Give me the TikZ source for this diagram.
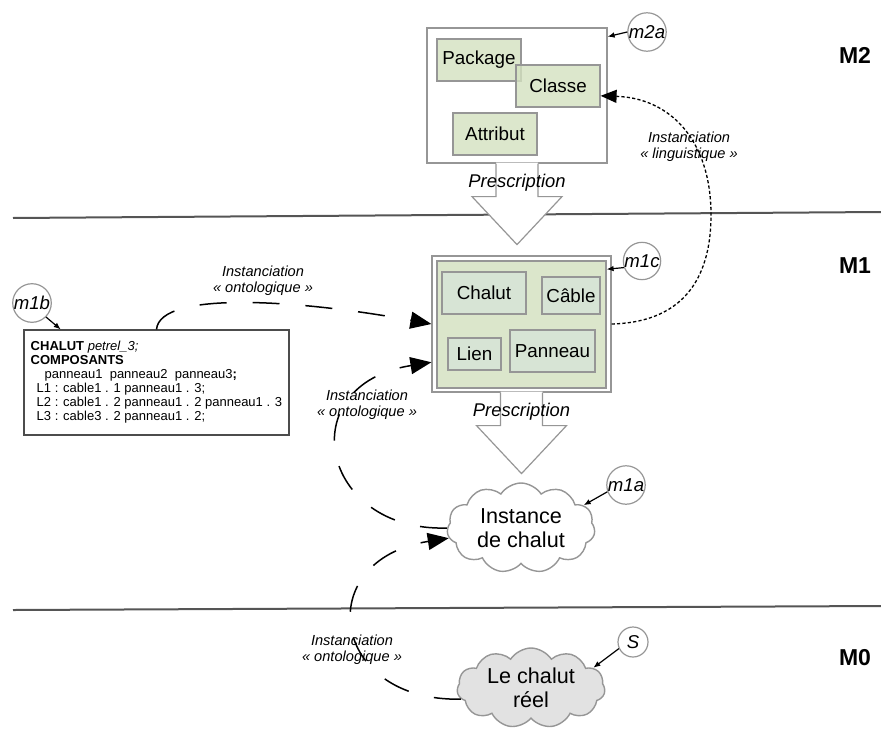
\documentclass[tikz,border=0pt]{standalone}
\usepackage{fontspec}
\setmainfont{Liberation Sans}
\usetikzlibrary{arrows.meta,shapes.symbols}

\definecolor{boxgray}{RGB}{150,150,150}
\definecolor{pkgfill}{RGB}{212,226,192}
\definecolor{m1fill}{RGB}{219,230,203}
\definecolor{elfill}{RGB}{215,228,213}
\definecolor{realfill}{RGB}{226,226,226}
\definecolor{rulegray}{RGB}{85,85,85}

\tikzset{
  frame/.style={draw=boxgray, line width=0.6pt, fill=white, inner sep=0pt},
  mbox/.style={draw=boxgray, line width=0.6pt, fill=pkgfill, fill opacity=0.8,
    text opacity=1, inner sep=0pt, minimum width=42pt, minimum height=21pt,
    font=\fontsize{9.4}{11}\selectfont},
  elbox/.style={draw=boxgray, line width=0.6pt, fill=elfill, inner sep=0pt,
    font=\fontsize{9.4}{11}\selectfont},
  tagcirc/.style={circle, draw=boxgray, line width=0.6pt, minimum size=15.5pt,
    inner sep=0pt, font=\fontsize{9.3}{11}\selectfont\itshape},
  cloudnode/.style={cloud, cloud puffs=11, cloud puff arc=115, cloud ignores aspect,
    draw=boxgray, line width=0.7pt, align=center, inner sep=0pt,
    font=\fontsize{10.8}{12}\selectfont},
  lbl/.style={align=center, inner sep=0pt, font=\fontsize{7.3}{8}\selectfont\itshape},
  lvl/.style={inner sep=0pt, font=\fontsize{11.5}{13}\selectfont\bfseries},
  ontol/.style={line width=0.75pt, dash pattern=on 13.5pt off 13pt,
    -{Triangle[length=10.5pt,width=8.5pt]}},
  ling/.style={line width=0.65pt, dash pattern=on 1.6pt off 1.1pt,
    -{Triangle[length=8pt,width=6.5pt]}},
  pointer/.style={line width=0.6pt, -{Latex[length=3.5pt,width=2.8pt]}},
  presc/.pic={
    \fill[white] (-21,-1) -- (-21,33) -- (-45,33) -- (0,81) -- (45,33) -- (21,33) -- (21,-1) -- cycle;
    \draw[boxgray, line width=0.6pt] (-21,0) -- (-21,33) -- (-45,33) -- (0,81) -- (45,33) -- (21,33) -- (21,0);
    \node[inner sep=0pt, font=\fontsize{9.2}{11}\selectfont\itshape] at (0,19) {Prescription};
  }
}

\begin{document}
\begin{tikzpicture}[x=0.5pt,y=-0.5pt]
\useasboundingbox (0,0) rectangle (881,733);

% level separators
\draw[rulegray, line width=1pt] (13,218) -- (881,212);
\draw[rulegray, line width=1pt] (13,610) -- (881,606);

% level names
\node[lvl] (M2) at (855,55) {M2};
\node[lvl] (M1) at (855,266) {M1};
\node[lvl] (M0) at (855,658) {M0};

% M2 : metamodel
\node[frame, minimum width=90pt, minimum height=67.5pt] (m2box) at (517,95.5) {};
\node[mbox] (Package) at (479,60) {Package};
\node[mbox] (Classe) at (558,86) {Classe};
\node[mbox] (Attribut) at (495,134) {Attribut};
\pic at (m2box.south) {presc};

% M1 : model
\node[frame, minimum width=89.5pt, minimum height=68pt] (M1o) at (521.5,324) {};
\node[draw=boxgray, line width=0.6pt, fill=m1fill, inner sep=0pt,
      minimum width=84.5pt, minimum height=63.5pt] (M1i) at (521.5,324.5) {};
\node[elbox, minimum width=42pt, minimum height=21pt] (Chalut) at (484,293) {Chalut};
\node[elbox, minimum width=29pt, minimum height=18.5pt] (Cable) at (571,295.5) {Câble};
\node[elbox, minimum width=26.5pt, minimum height=16pt] (Lien) at (474.5,354) {Lien};
\node[elbox, minimum width=42.5pt, minimum height=21pt] (Panneau) at (552.5,351) {Panneau};
\pic at (M1o.south) {presc};

% textual description of the trawl
\node[draw=black!70, line width=0.6pt, fill=white, align=left, inner sep=0pt,
      minimum width=132.5pt, minimum height=52.5pt,
      font=\fontsize{6.5}{7}\selectfont] (m1box) at (156.5,382.5)
  {\textbf{CHALUT} \textit{petrel\_3;}\\
   \textbf{COMPOSANTS}\\
   \hspace*{7pt}panneau1\ \ panneau2\ \ panneau3\textbf{;}\\
   \hspace*{3pt}L1 : cable1 . 1 panneau1 . 3;\\
   \hspace*{3pt}L2 : cable1 . 2 panneau1 . 2 panneau1 . 3\\
   \hspace*{3pt}L3 : cable3 . 2 panneau1 . 2;};

% instances
\node[cloudnode, fill=white, minimum width=74pt, minimum height=45pt] (inst) at (521,528)
  {Instance\\de chalut};
\node[cloudnode, fill=realfill, minimum width=74pt, minimum height=40pt] (reel) at (531,688)
  {Le chalut\\réel};

% tags
\node[tagcirc, minimum size=15pt] (m2a) at (647,32) {m2a};
\node[tagcirc] (m1c) at (642,261) {m1c};
\node[tagcirc, minimum size=15pt] (m1b) at (32,303) {m1b};
\node[tagcirc] (m1a) at (626,485) {m1a};
\node[tagcirc, minimum size=15pt] (S) at (633,642) {S};

\draw[pointer] (m2a.west) -- (m2box.33);
\draw[pointer] (m1c.200) -- (M1i.33);
\draw[pointer] (m1b.-45) -- (m1box.151.5);
\draw[pointer] (m1a.200) -- (inst.20);
\draw[pointer] (S.205) -- (reel.18);

% instantiation links
\draw[ontol] (m1box.north) .. controls (160,290) and (300,300) .. (M1o.west);
\draw[ontol] (inst.west) .. controls (320,532) and (290,385) .. (M1o.203.5);
\draw[ontol] (reel.189) .. controls (330,702) and (310,560) .. (inst.188);
\draw[ling] (M1o.east) .. controls (690,322) and (711,270) .. (711,215)
                       .. controls (711,140) and (670,98) .. (Classe.-13);

% link labels
\node[lbl] (lab1) at (263,281) {Instanciation\\« ontologique »};
\node[lbl] (lab2) at (367,405) {Instanciation\\« ontologique »};
\node[lbl] (lab3) at (352,650) {Instanciation\\« ontologique »};
\node[lbl] (labL) at (689,147) {Instanciation\\« linguistique »};
\end{tikzpicture}
\end{document}
